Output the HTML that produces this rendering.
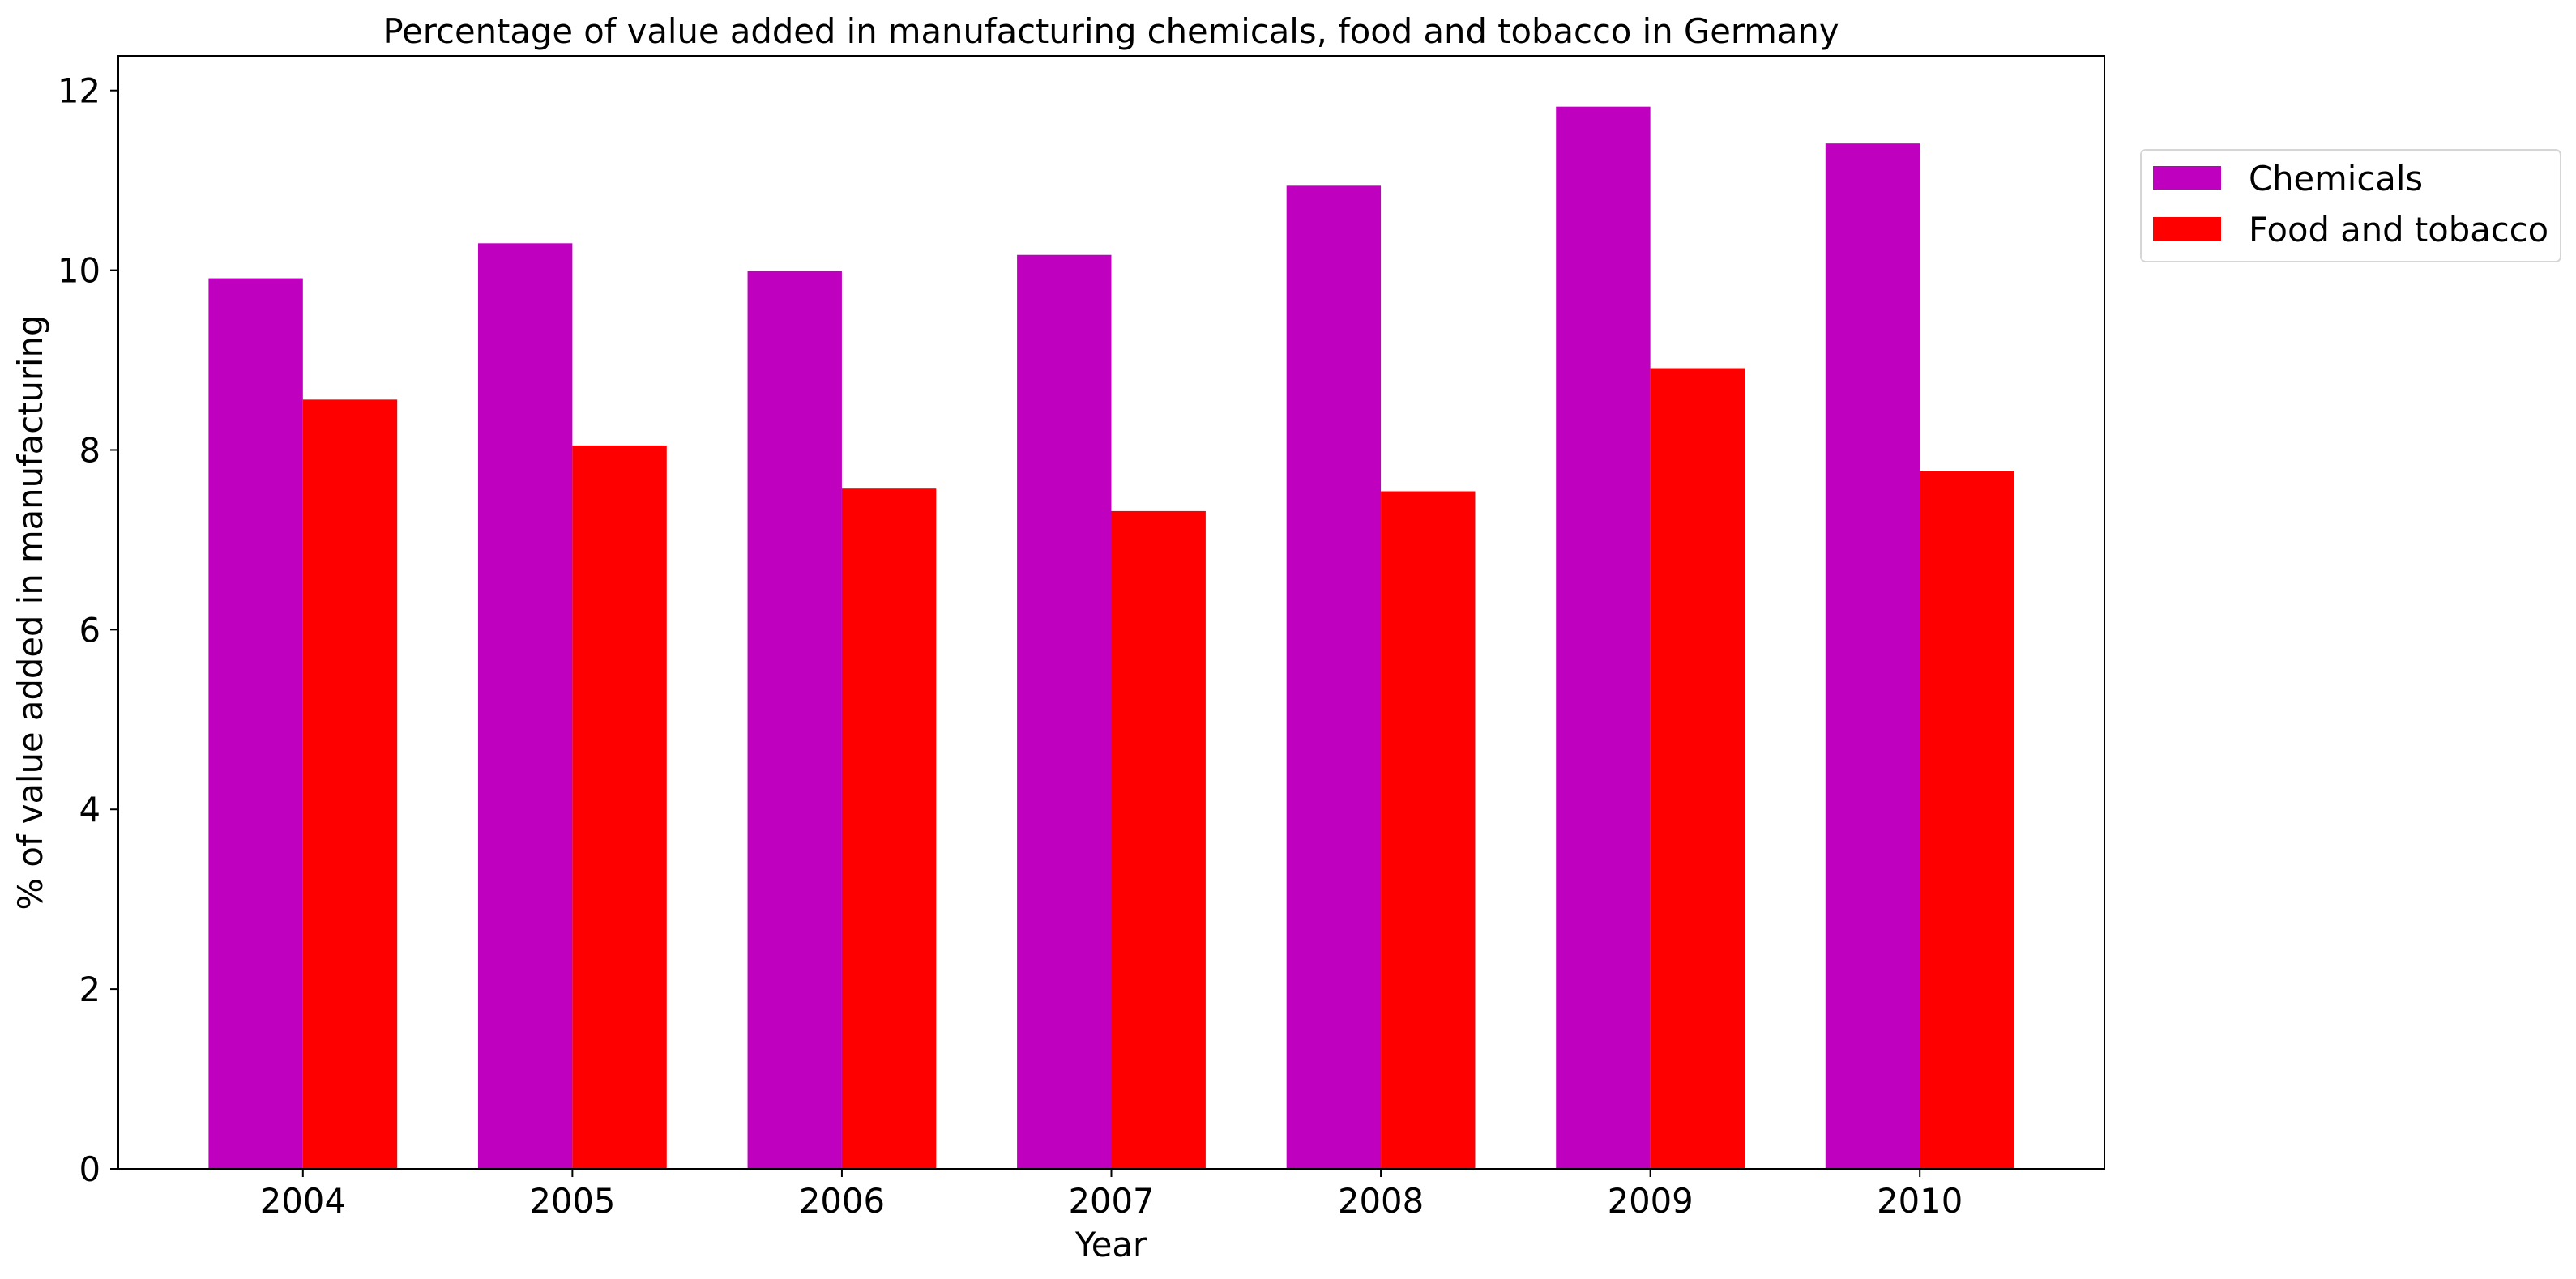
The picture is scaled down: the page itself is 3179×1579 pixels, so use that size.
<!DOCTYPE html>
<html><head><meta charset="utf-8"><style>
body{margin:0;background:#fff}
svg{display:block;font-family:"DejaVu Sans","Liberation Sans",sans-serif}
</style></head><body>
<svg id="chart" width="3179" height="1579" viewBox="0 0 3179 1579" xmlns="http://www.w3.org/2000/svg">
<rect width="3179" height="1579" fill="#fff"/>
<g id="bars"></g>
<g id="axes"></g>
<text x="1371" y="53" font-size="41.7" text-anchor="middle">Percentage of value added in manufacturing chemicals, food and tobacco in Germany</text>
<text x="1371" y="1551" font-size="41.7" text-anchor="middle">Year</text>
<text transform="translate(52,756) rotate(-90)" font-size="41.7" text-anchor="middle">% of value added in manufacturing</text>
<g>
<rect x="2642" y="185" width="518" height="138" rx="6" fill="#fff" stroke="#d6d6d6" stroke-width="2"/>
<rect x="2657" y="205" width="84" height="29" fill="#bf00bf"/>
<text x="2775" y="235" font-size="41.7">Chemicals</text>
<rect x="2657" y="268" width="84" height="29" fill="#ff0000"/>
<text x="2775" y="298" font-size="41.7">Food and tobacco</text>
</g>
</svg>
<script>
const years = ["2004","2005","2006","2007","2008","2009","2010"];
const chemicals = [9.91, 10.30, 9.99, 10.17, 10.94, 11.82, 11.41];
const food = [8.56, 8.05, 7.57, 7.32, 7.54, 8.91, 7.77];
const yTicks = [0, 2, 4, 6, 8, 10, 12];

const NS = "http://www.w3.org/2000/svg";
const L = 146, R = 2597, T = 69, B = 1443;
const x0 = -0.685, x1 = 6.685, yMax = 12.385;
const xs = v => L + (v - x0) / (x1 - x0) * (R - L);
const ys = v => B - v / yMax * (B - T);
const W = 0.35;
function mk(tag, attrs, parent) {
  const e = document.createElementNS(NS, tag);
  for (const k in attrs) e.setAttribute(k, attrs[k]);
  parent.appendChild(e);
  return e;
}
const bars = document.getElementById('bars');
const axes = document.getElementById('axes');
years.forEach((yr, i) => {
  const c = mk('rect', {x: xs(i - W), y: ys(chemicals[i]), width: xs(i) - xs(i - W), height: ys(0) - ys(chemicals[i]), fill: '#bf00bf'}, bars);
  
  
  const f = mk('rect', {x: xs(i), y: ys(food[i]), width: xs(i + W) - xs(i), height: ys(0) - ys(food[i]), fill: '#ff0000'}, bars);
  
  
  const tk = mk('line', {x1: xs(i), x2: xs(i), y1: B, y2: B + 10, stroke: '#000', 'stroke-width': 2}, axes);
  
  
  const tl = mk('text', {x: xs(i), y: 1497, 'font-size': 41.7, 'text-anchor': 'middle'}, axes);
  tl.textContent = yr;
  
  
});
yTicks.forEach(v => {
  const tk = mk('line', {x1: L - 10, x2: L, y1: ys(v), y2: ys(v), stroke: '#000', 'stroke-width': 2}, axes);
  
  
  const tl = mk('text', {x: L - 22, y: ys(v) + 15, 'font-size': 41.7, 'text-anchor': 'end'}, axes);
  tl.textContent = v;
  
  
});
const frame = mk('rect', {x: L, y: T, width: R - L, height: B - T, fill: 'none', stroke: '#000', 'stroke-width': 2}, axes);


</script>
</body></html>
